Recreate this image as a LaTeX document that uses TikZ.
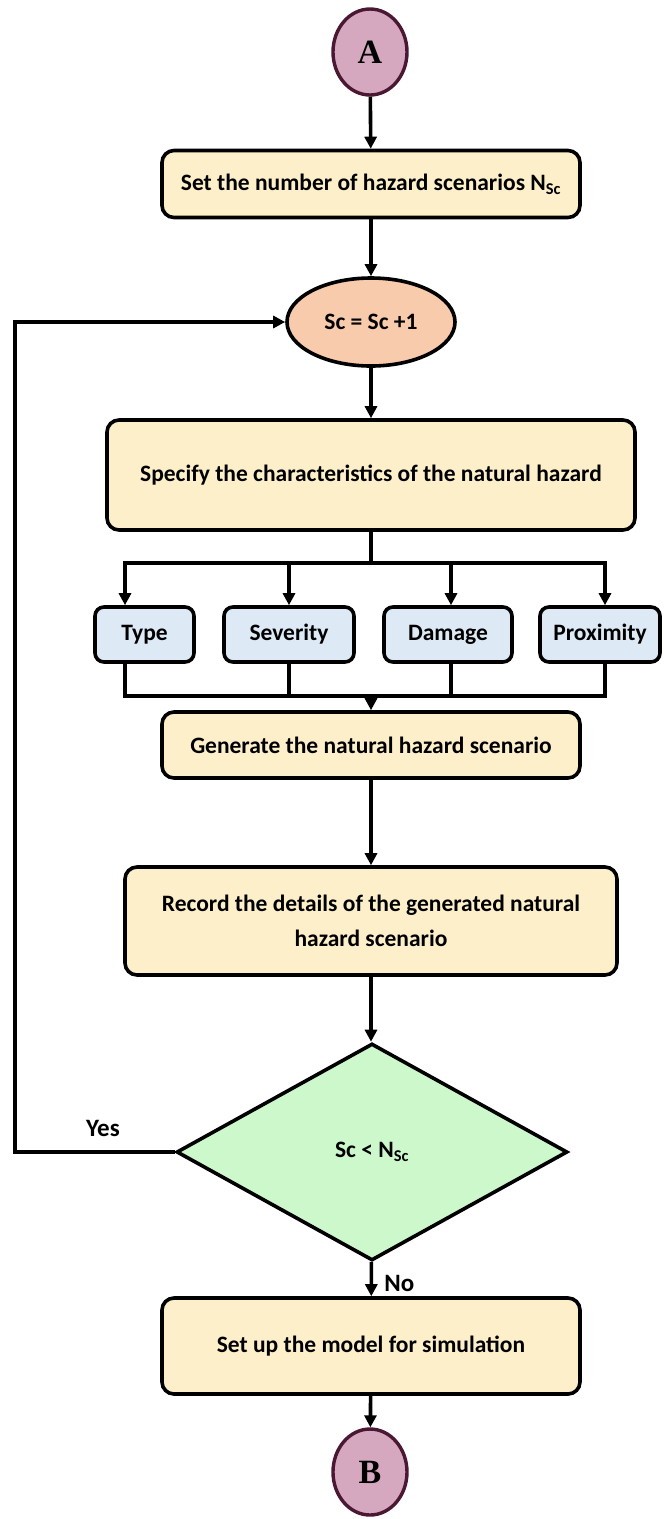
\documentclass[tikz,border=0pt]{standalone}
\usepackage{fontspec}
\setmainfont{Carlito}
\newfontfamily\letterfont{Liberation Serif}
\usetikzlibrary{shapes.geometric,arrows.meta}
\definecolor{boxfill}{HTML}{FCEFCA}
\definecolor{attrfill}{HTML}{DDEAF6}
\definecolor{incfill}{HTML}{F8CBAD}
\definecolor{decfill}{HTML}{CCF8CC}
\definecolor{conFill}{HTML}{D5A8C0}
\definecolor{conDraw}{HTML}{4A1832}
\begin{document}
\begin{tikzpicture}[x=1pt,y=1pt,
  every node/.style={font=\fontsize{23.5}{28}\selectfont\bfseries},
  line/.style={line width=3.6pt},
  arr/.style={line width=3.6pt, -{Triangle[length=12pt,width=12pt]}},
  procbox/.style={draw, line width=3.6pt, fill=boxfill, rounded corners=12pt, align=center, inner sep=0pt},
  attrbox/.style={draw, line width=3.6pt, fill=attrfill, rounded corners=9pt, align=center, inner sep=0pt, minimum height=55pt},
  connector/.style={ellipse, draw=conDraw, line width=3.4pt, fill=conFill, inner sep=0pt,
    minimum width=74pt, minimum height=86pt, font=\fontsize{34}{38}\selectfont\letterfont\bfseries},
  flowlabel/.style={font=\fontsize{25}{30}\selectfont\bfseries},
]
\useasboundingbox (0,0) rectangle (664,-1519);

% connectors and process steps down the main axis
\node[connector] (A) at (370,-52) {A};
\node[procbox, minimum width=418pt, minimum height=67pt] (nsc) at (371,-184)
  {Set the number of hazard scenarios N\textsubscript{Sc}};
\node[ellipse, draw, line width=3.6pt, fill=incfill, inner sep=0pt,
  minimum width=168pt, minimum height=88pt] (inc) at (371,-322) {Sc = Sc +1};
\node[procbox, minimum width=528pt, minimum height=110pt] (spec) at (371,-475)
  {Specify the characteristics of the natural hazard};

% hazard attributes
\node[attrbox, minimum width=99pt] (type) at (144.5,-634.5) {Type};
\node[attrbox, minimum width=130pt] (sev) at (289,-634.5) {Severity};
\node[attrbox, minimum width=128pt] (dam) at (448,-634.5) {Damage};
\node[attrbox, minimum width=120pt] (prox) at (600,-634.5) {Proximity};

\node[procbox, minimum width=418pt, minimum height=66pt] (gen) at (371,-745)
  {Generate the natural hazard scenario};
\node[procbox, minimum width=492pt, minimum height=108pt] (rec) at (371,-921)
  {Record the details of the generated natural\\[7pt]hazard scenario};
\node[diamond, draw, line width=3.6pt, fill=decfill, inner sep=0pt, aspect=1.8,
  minimum width=391pt, minimum height=217pt] (dec) at (372,-1152)
  {Sc {\normalfont\bfseries<} N\textsubscript{Sc}};
\node[procbox, minimum width=418pt, minimum height=96pt] (setup) at (371,-1346)
  {Set up the model for simulation};
\node[connector] (B) at (370,-1472) {B};

% branch and collector points
\coordinate (bm) at (371,-563);
\coordinate (b1) at (125,-563);
\coordinate (b2) at (289,-563);
\coordinate (b3) at (451,-563);
\coordinate (b4) at (605,-563);
\coordinate (cm) at (371,-696);
\coordinate (c1) at (125,-696);
\coordinate (c4) at (605,-696);
\coordinate (lx) at (15,0);

% main flow
\draw[arr] (A) -- (nsc);
\draw[arr] (nsc) -- (inc);
\draw[arr] (inc) -- (spec);
\draw[line] (spec.south) -- (bm);
\draw[line, line cap=rect] (b1) -- (b4);
\foreach \b/\t in {b1/type,b2/sev,b3/dam,b4/prox}
  \draw[arr] (\b) -- (\b |- \t.north);
\draw[line, line cap=rect] (c1) -- (c4);
\draw[line] (type.south -| c1) -- (c1);
\draw[line] (sev.south) -- (sev.south |- cm);
\draw[line] (dam.south -| b3) -- (b3 |- cm);
\draw[line] (prox.south -| c4) -- (c4);
\draw[arr] (cm) -- (gen.north);
\draw[arr] (gen) -- (rec);
\draw[arr] (rec) -- (dec.north -| rec.south);
\draw[arr] (dec) -- (setup) node[flowlabel, pos=0.62, anchor=west, xshift=8pt] {No};
\draw[arr] (setup) -- (B);

% loop back for the next scenario
\draw[arr, line join=miter] (dec.west) -- (dec.west -| lx) |- (inc.west);
\node[flowlabel] (yes) at (103,-1128) {Yes};
\end{tikzpicture}
\end{document}
